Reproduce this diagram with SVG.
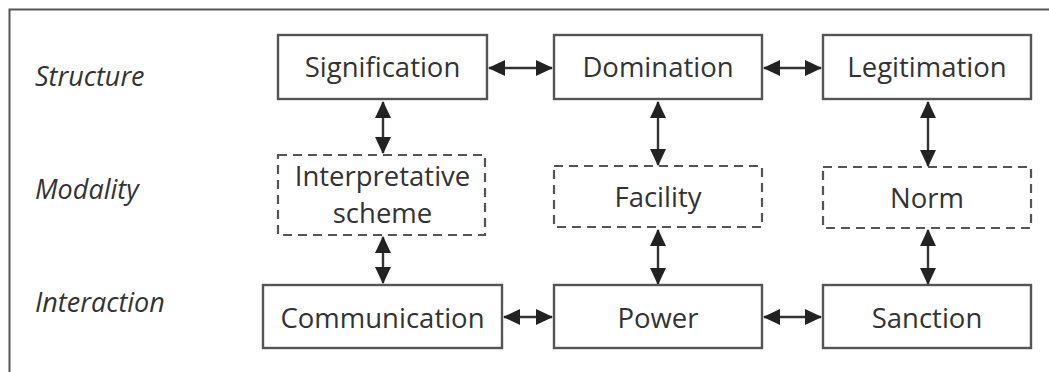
<svg xmlns="http://www.w3.org/2000/svg" width="1049" height="372" viewBox="0 0 1049 372">
<style>
.box{fill:#fff;stroke:#555;stroke-width:2.4}
.dash{fill:#fff;stroke:#555;stroke-width:2.2;stroke-dasharray:9 6}
.t{font-family:"Open Sans","DejaVu Sans",sans-serif;font-size:27.5px;fill:#333;text-anchor:middle}
.lab{font-family:"Open Sans","DejaVu Sans",sans-serif;font-size:27px;font-style:italic;fill:#333}
.c{stroke:#333;stroke-width:2.4;fill:none;marker-start:url(#ah);marker-end:url(#ah)}
</style>
<defs>
<marker id="ah" viewBox="0 0 17 16" refX="16" refY="8" markerWidth="17" markerHeight="16" markerUnits="userSpaceOnUse" orient="auto-start-reverse">
<path d="M0,0 L17,8 L0,16 Z" fill="#222"/>
</marker>
</defs>
<rect width="1049" height="372" fill="#fff"/>
<path d="M1049,9.5 H9.5 V372" fill="none" stroke="#555" stroke-width="2"/>
<g id="labels">
<text class="lab" x="35" y="86">Structure</text>
<text class="lab" x="35" y="199">Modality</text>
<text class="lab" x="35" y="312">Interaction</text>
</g>
<g id="connectors">
<line class="c" x1="489" y1="68" x2="552" y2="68"/>
<line class="c" x1="764" y1="68" x2="821" y2="68"/>
<line class="c" x1="504" y1="317" x2="552" y2="317"/>
<line class="c" x1="764" y1="317" x2="821" y2="317"/>
<line class="c" x1="383" y1="102" x2="383" y2="153"/>
<line class="c" x1="383" y1="237" x2="383" y2="283"/>
<line class="c" x1="658" y1="102" x2="658" y2="165"/>
<line class="c" x1="658" y1="230" x2="658" y2="284"/>
<line class="c" x1="928" y1="102" x2="928" y2="166"/>
<line class="c" x1="928" y1="230" x2="928" y2="284"/>
</g>
<g id="signification"><rect class="box" x="278" y="35" width="209" height="64"/><text class="t" x="382.5" y="77">Signification</text></g>
<g id="domination"><rect class="box" x="554" y="35" width="208" height="64"/><text class="t" x="658" y="77">Domination</text></g>
<g id="legitimation"><rect class="box" x="823" y="35" width="208" height="64"/><text class="t" x="927" y="77">Legitimation</text></g>
<g id="interpretative-scheme"><rect class="dash" x="278" y="155" width="207" height="80"/><text class="t" x="382.5" y="186">Interpretative</text><text class="t" x="382.5" y="223">scheme</text></g>
<g id="facility"><rect class="dash" x="554" y="166" width="208" height="61"/><text class="t" x="658" y="207">Facility</text></g>
<g id="norm"><rect class="dash" x="823" y="167" width="208" height="61"/><text class="t" x="927" y="208">Norm</text></g>
<g id="communication"><rect class="box" x="263" y="285" width="239" height="63"/><text class="t" x="382.5" y="328">Communication</text></g>
<g id="power"><rect class="box" x="554" y="285" width="208" height="63"/><text class="t" x="658" y="328">Power</text></g>
<g id="sanction"><rect class="box" x="823" y="285" width="208" height="63"/><text class="t" x="927" y="328">Sanction</text></g>
</svg>
